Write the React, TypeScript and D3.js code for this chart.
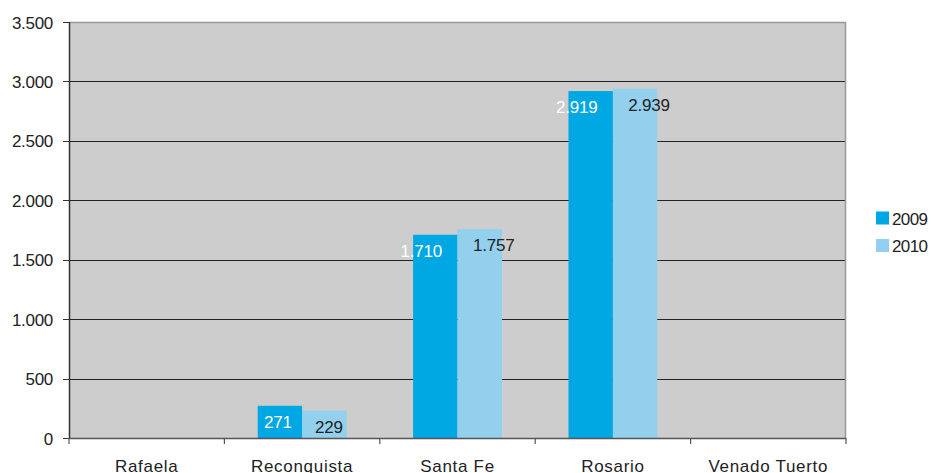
import React from "react";
import * as d3 from "d3";

const categories = ["Rafaela", "Reconquista", "Santa Fe", "Rosario", "Venado Tuerto"];
const seriesNames = ["2009", "2010"];
const values2009: (number | null)[] = [null, 271, 1710, 2919, null];
const values2010: (number | null)[] = [null, 229, 1757, 2939, null];
const yTicks = [0, 500, 1000, 1500, 2000, 2500, 3000, 3500];

const W = 931;
const H = 473;
const M = { left: 69, right: 846, top: 22, bottom: 438 };
const colors = ["#00A8E3", "#92D0EE"];
const labelColors = ["#FFFFFF", "#222222"];
const FONT = "'Liberation Sans', Arial, sans-serif";

const locale = d3.formatLocale({ decimal: ",", thousands: ".", grouping: [3], currency: ["$", ""] });
const fmt = locale.format(",d");

export default function App() {
  const x = d3.scaleBand<string>().domain(categories).range([M.left, M.right]).paddingInner(0).paddingOuter(0);
  const xs = d3.scaleBand<string>().domain(seriesNames).range([0, x.bandwidth()]).paddingInner(0).paddingOuter(0.75);
  const y = d3.scaleLinear().domain([0, 3500]).range([M.bottom, M.top]);
  const series = [values2009, values2010];
  const ticksX = [...categories.map((c) => x(c)!), M.right];

  return (
    <svg width={W} height={H} style={{ position: "fixed", left: 0, top: 0, display: "block" }} fontFamily={FONT}>
      <rect x={0} y={0} width={W} height={H} fill="#ffffff" />
      <rect x={M.left} y={M.top} width={M.right - M.left} height={M.bottom - M.top} fill="#CDCDCD" />
      {yTicks.filter((t) => t > 0 && t < 3500).map((t) => (
        <line key={t} x1={M.left} x2={M.right} y1={Math.round(y(t)) + 0.5} y2={Math.round(y(t)) + 0.5} stroke="#222" strokeWidth={1} />
      ))}
      {/* plot border top/right */}
      <line x1={M.left} x2={M.right} y1={M.top + 0.5} y2={M.top + 0.5} stroke="#999" strokeWidth={1.5} />
      <line x1={M.right - 0.5} x2={M.right - 0.5} y1={M.top} y2={M.bottom} stroke="#999" strokeWidth={1.5} />
      {/* bars */}
      {series.map((vals, si) =>
        categories.map((c, ci) => {
          const v = vals[ci];
          if (v == null) return null;
          const bx = x(c)! + xs(seriesNames[si])!;
          return (
            <rect key={`${si}-${ci}`} x={bx} y={y(v)} width={xs.bandwidth()} height={y(0) - y(v)} fill={colors[si]} />
          );
        })
      )}
      {/* axes */}
      <line x1={M.left + 0.5} x2={M.left + 0.5} y1={M.top} y2={M.bottom + 1} stroke="#333" strokeWidth={1.5} />
      <line x1={M.left} x2={M.right} y1={M.bottom + 0.5} y2={M.bottom + 0.5} stroke="#555" strokeWidth={1.5} />
      {yTicks.map((t) => (
        <g key={t}>
          <line x1={M.left - 6} x2={M.left} y1={Math.round(y(t)) + 0.5} y2={Math.round(y(t)) + 0.5} stroke="#333" strokeWidth={1} />
          <text x={53} y={y(t) + 6.5} textAnchor="end" fontSize={17} fill="#222" letterSpacing={-0.3}>
            {fmt(t)}
          </text>
        </g>
      ))}
      {ticksX.map((tx, i) => (
        <line key={i} x1={tx} x2={tx} y1={M.bottom} y2={M.bottom + 6} stroke="#555" strokeWidth={1.2} />
      ))}
      {categories.map((c) => (
        <text key={c} x={x(c)! + x.bandwidth() / 2} y={471.5} textAnchor="middle" fontSize={17} fill="#222" letterSpacing={0.7}>
          {c}
        </text>
      ))}
      {/* data labels */}
      {series.map((vals, si) =>
        categories.map((c, ci) => {
          const v = vals[ci];
          if (v == null) return null;
          const cx = x(c)! + xs(seriesNames[si])! + xs.bandwidth() / 2;
          const off = v >= 1000 ? (si === 0 ? -14 : 14) : si === 0 ? -2 : 4.5;
          return (
            <text key={`l${si}-${ci}`} x={cx + off} y={y(v) + 22} textAnchor="middle" fontSize={17} fill={labelColors[si]} letterSpacing={-0.2}>
              {fmt(v)}
            </text>
          );
        })
      )}
      {/* legend */}
      {seriesNames.map((s, i) => (
        <g key={s}>
          <rect x={876} y={211.5 + i * 27.5} width={13} height={13} fill={colors[i]} />
          <text x={892} y={224.5 + i * 27.5} fontSize={17} fill="#222" letterSpacing={-0.6}>
            {s}
          </text>
        </g>
      ))}
    </svg>
  );
}
